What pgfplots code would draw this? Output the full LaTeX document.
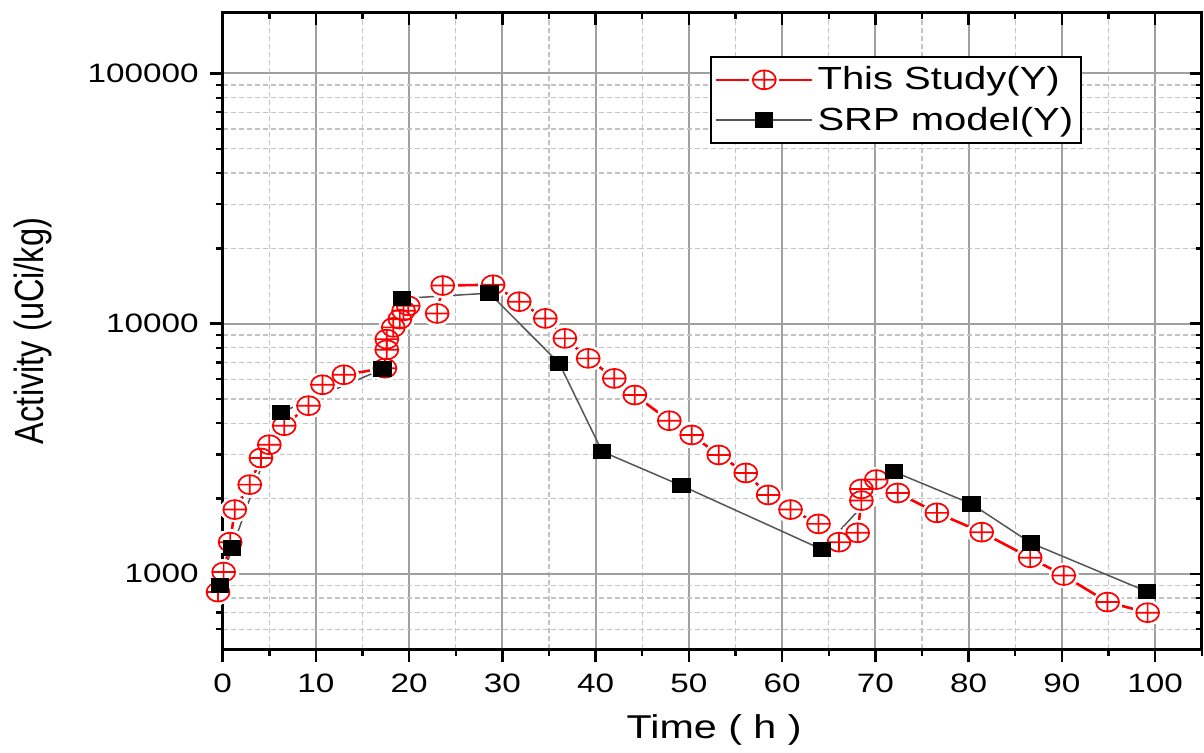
\documentclass[border=0pt]{standalone}
\usepackage{fontspec}
\setmainfont{Liberation Sans}[FakeStretch=1.25]
\newfontfamily\plainsans{Liberation Sans}
\usepackage{graphicx}
\usepackage{pgfplots}
\usepackage{pgfplotstable}
\pgfplotsset{compat=1.18}

\definecolor{srpline}{RGB}{85,85,85}
\definecolor{majgrid}{RGB}{160,160,160}
\definecolor{mingrid}{RGB}{195,195,195}

\pgfplotsset{
  studyleg/.style={legend image code/.code={%
    \draw[red, line width=1.3bp] (0bp,0bp) -- (16.5bp,0bp) (31.5bp,0bp) -- (48bp,0bp);
    \draw[##1] plot coordinates {(24bp,0bp)};
  }},
  srpleg/.style={legend image code/.code={%
    \draw[mark repeat=2, mark phase=2, ##1] plot coordinates {(0bp,0bp) (24bp,0bp) (48bp,0bp)};
  }},
}

\pgfplotstableread{
x y
-0.5 845
0.1 1016
0.8 1338
1.3 1806
2.9 2272
4.1 2904
5.0 3281
6.6 3908
9.2 4699
10.7 5697
13.0 6246
17.4 6637
17.6 7862
17.6 8670
18.3 9660
19.0 10420
19.4 11250
19.9 11780
23.0 10980
23.6 14200
29.0 14300
31.8 12240
34.6 10490
36.7 8730
39.2 7265
42.0 6040
44.2 5183
47.9 4092
50.3 3589
53.2 2986
56.1 2530
58.5 2066
60.9 1806
63.9 1583
66.1 1338
68.1 1458
68.5 1962
68.5 2184
70.1 2380
72.4 2104
76.6 1752
81.4 1467
86.6 1159
90.2 984
94.9 771
99.2 699
}\studytab

\pgfplotstableread{
x y
-0.3 898
1.0 1266
6.25 4421
17.15 6577
19.25 12605
28.6 13240
36.1 6934
40.7 3080
49.2 2251
64.3 1250
72.0 2558
80.3 1903
86.7 1326
99.1 850
}\srptab

\begin{document}
\begin{tikzpicture}
\begin{axis}[
  at={(0,0)}, anchor=south west,
  scale only axis, width=489.5bp, height=318.2bp,
  xmin=0, xmax=105,
  ymode=log, ymin=500, ymax=175000,
  xtick={0,10,...,100},
  minor xtick={5,15,...,105},
  ytick={1000,10000,100000},
  yticklabels={1000,10000,100000},
  minor ytick={600,700,800,900,2000,3000,4000,5000,6000,7000,8000,9000,20000,30000,40000,50000,60000,70000,80000,90000},
  grid=both,
  major grid style={majgrid, line width=1bp},
  minor grid style={mingrid, line width=0.6bp, dash pattern=on 2.5bp off 1.5bp},
  xtick pos=left, ytick pos=left,
  tick align=outside,
  major tick length=6.5bp, minor tick length=3.5bp,
  tick style={black, line width=1.2bp},
  axis line style={black, line width=1.5bp},
  /pgf/number format/assume math mode=true,
  ticklabel style={font=\fontsize{13.3bp}{15bp}\selectfont},
  xticklabel style={yshift=-2.5bp},
  yticklabel style={xshift=-2bp},
  xlabel={Time ( h )},
  xlabel style={font=\fontsize{16.5bp}{19bp}\selectfont, at={(axis description cs:0.502,-0.127)}, anchor=center},
  ylabel={\scalebox{1}[1.25]{Activity (uCi/kg)}},
  ylabel style={font=\plainsans\fontsize{16.3bp}{19bp}\selectfont, at={(axis description cs:-0.194,0.5)}, anchor=center},
  clip=false,
  legend style={at={(axis description cs:0.8777,0.932)}, anchor=north east,
    draw=black, line width=0.8bp, fill=white,
    font=\fontsize{16bp}{19bp}\selectfont,
    inner xsep=2bp, inner ysep=3bp, row sep=3bp,
    cells={anchor=west},
    /tikz/every even column/.append style={column sep=3bp}},
]
\addplot[red, line width=1.3bp, forget plot] table {\studytab};
\addplot[white, only marks, mark=*, mark size=6.2bp, mark options={draw=white, fill=white, line width=0pt, xscale=1.2}, forget plot] table {\studytab};
\addplot[only marks, red, mark=oplus, mark size=4.75bp, mark options={red, xscale=1.21, line width=0.85bp}, studyleg] table {\studytab};
\addlegendentry{This Study(Y)}
\addplot[srpline, line width=0.75bp, mark=square*, mark size=3.5bp, mark options={black, xscale=1.2}, srpleg] table {\srptab};
\addlegendentry{SRP model(Y)}
\end{axis}
\begin{axis}[
  at={(0,0)}, anchor=south west,
  scale only axis, width=489.5bp, height=318.2bp,
  xmin=0, xmax=105,
  ymode=log, ymin=500, ymax=175000,
  xtick={0,10,...,100},
  minor xtick={5,15,...,105},
  ytick={1000,10000,100000},
  minor ytick={600,700,800,900,2000,3000,4000,5000,6000,7000,8000,9000,20000,30000,40000,50000,60000,70000,80000,90000},
  xticklabels={}, yticklabels={},
  xtick pos=right, ytick pos=right,
  tick align=inside,
  major tick length=6bp, minor tick length=3bp,
  tick style={black, line width=1.2bp},
  axis line style={draw=none},
]
\end{axis}
\pgfresetboundingbox
\useasboundingbox (-111.35bp,-51.5bp) rectangle (490.65bp,324.55bp);
\end{tikzpicture}
\end{document}
